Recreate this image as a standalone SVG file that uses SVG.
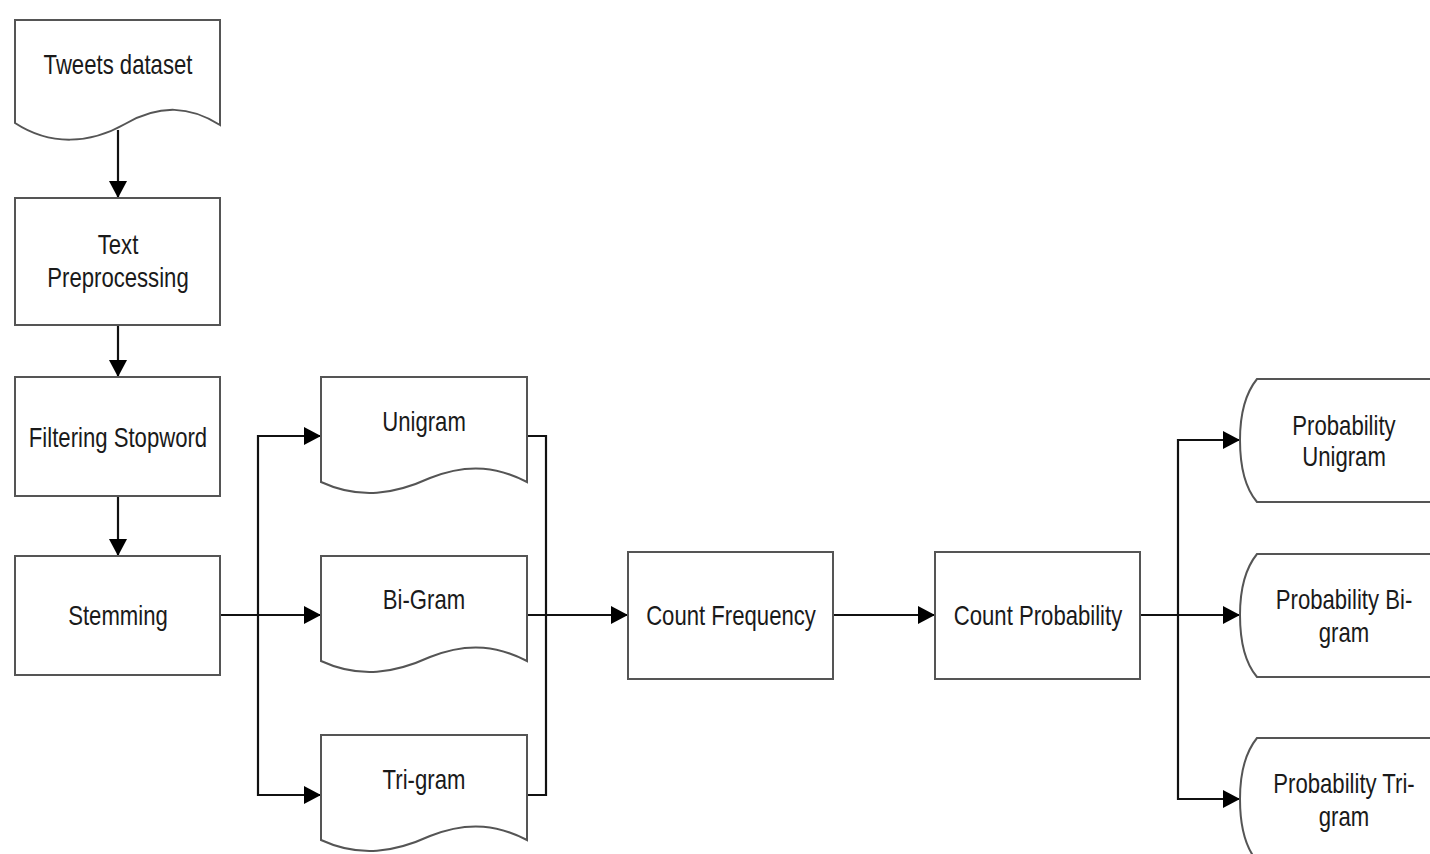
<svg xmlns="http://www.w3.org/2000/svg" width="1430" height="854" viewBox="0 0 1430 854">
<style>
.box{fill:#fff;stroke:#555;stroke-width:2}
.t{font-family:"Liberation Sans",Arial,sans-serif;font-size:27px;fill:#1a1a1a;text-anchor:middle}
.c{fill:none;stroke:#111;stroke-width:2.2}
</style>
<defs>
<marker id="ah" markerWidth="18" markerHeight="18" refX="17" refY="9" orient="auto" markerUnits="userSpaceOnUse">
<path d="M0,0 L17,9 L0,18 Z" fill="#000"/>
</marker>
</defs>
<rect width="1430" height="854" fill="#fff"/>
<g id="connectors">
<path class="c" d="M118,130 V198" marker-end="url(#ah)"/>
<path class="c" d="M118,325 V377" marker-end="url(#ah)"/>
<path class="c" d="M118,496 V556" marker-end="url(#ah)"/>
<path class="c" d="M220,615 H258"/>
<path class="c" d="M258,615 V436 H321" marker-end="url(#ah)"/>
<path class="c" d="M258,615 H321" marker-end="url(#ah)"/>
<path class="c" d="M258,615 V795 H321" marker-end="url(#ah)"/>
<path class="c" d="M527,436 H546 V795 H527"/>
<path class="c" d="M527,615 H628" marker-end="url(#ah)"/>
<path class="c" d="M833,615 H935" marker-end="url(#ah)"/>
<path class="c" d="M1140,615 H1178"/>
<path class="c" d="M1178,615 V440 H1240" marker-end="url(#ah)"/>
<path class="c" d="M1178,615 H1240" marker-end="url(#ah)"/>
<path class="c" d="M1178,615 V799 H1240" marker-end="url(#ah)"/>
</g>
<g id="tweets">
<path class="box" d="M15,20 H220 V125 C190,106 160,104 125,124 C90,144 50,146 15,123 Z"/>
<text class="t" transform="translate(118,74) scale(0.82,1)">Tweets dataset</text>
</g>
<g id="preprocessing">
<rect class="box" x="15" y="198" width="205" height="127"/>
<text class="t" transform="translate(118,254) scale(0.82,1)">Text</text>
<text class="t" transform="translate(118,287) scale(0.82,1)">Preprocessing</text>
</g>
<g id="stopword">
<rect class="box" x="15" y="377" width="205" height="119"/>
<text class="t" transform="translate(118,447) scale(0.82,1)">Filtering Stopword</text>
</g>
<g id="stemming">
<rect class="box" x="15" y="556" width="205" height="119"/>
<text class="t" transform="translate(118,625) scale(0.82,1)">Stemming</text>
</g>
<g id="unigram">
<path class="box" d="M321,377 H527 V482 C500,468 470,462 430,478 C395,494 360,500 321,482 Z"/>
<text class="t" transform="translate(424,431) scale(0.82,1)">Unigram</text>
</g>
<g id="bigram">
<path class="box" d="M321,556 H527 V661 C500,647 470,641 430,657 C395,673 360,679 321,661 Z"/>
<text class="t" transform="translate(424,609) scale(0.82,1)">Bi-Gram</text>
</g>
<g id="trigram">
<path class="box" d="M321,735 H527 V840 C500,826 470,820 430,836 C395,852 360,858 321,840 Z"/>
<text class="t" transform="translate(424,789) scale(0.82,1)">Tri-gram</text>
</g>
<g id="countfreq">
<rect class="box" x="628" y="552" width="205" height="127"/>
<text class="t" transform="translate(731,625) scale(0.82,1)">Count Frequency</text>
</g>
<g id="countprob">
<rect class="box" x="935" y="552" width="205" height="127"/>
<text class="t" transform="translate(1038,625) scale(0.82,1)">Count Probability</text>
</g>
<g id="probuni">
<path class="box" d="M1432,379 H1257 Q1240,400 1240,440 Q1240,482 1257,502 H1432"/>
<text class="t" transform="translate(1344,435) scale(0.82,1)">Probability</text>
<text class="t" transform="translate(1344,466) scale(0.82,1)">Unigram</text>
</g>
<g id="probbi">
<path class="box" d="M1432,554 H1257 Q1240,575 1240,615 Q1240,657 1257,677 H1432"/>
<text class="t" transform="translate(1344,609) scale(0.82,1)">Probability Bi-</text>
<text class="t" transform="translate(1344,642) scale(0.82,1)">gram</text>
</g>
<g id="probtri">
<path class="box" d="M1432,738 H1257 Q1240,759 1240,799 Q1240,841 1257,861 H1432"/>
<text class="t" transform="translate(1344,793) scale(0.82,1)">Probability Tri-</text>
<text class="t" transform="translate(1344,826) scale(0.82,1)">gram</text>
</g>
</svg>
